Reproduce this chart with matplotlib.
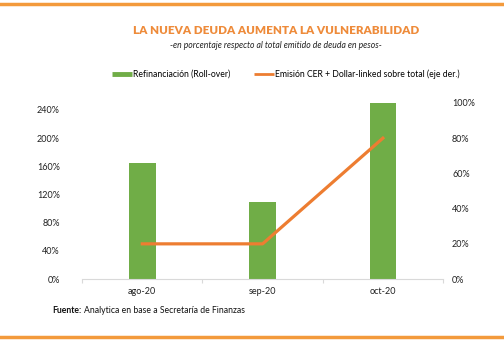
import matplotlib.pyplot as plt
import numpy as np
from matplotlib.lines import Line2D
from matplotlib.ticker import FuncFormatter

plt.rcParams['font.family'] = ['Lato', 'DejaVu Sans']

# data
months = ['ago-20', 'sep-20', 'oct-20']
rollover = [1.65, 1.10, 2.50]      # left axis
cer_share = [0.20, 0.20, 0.80]     # right axis

green = '#70AD47'
orange = '#ED7D31'
frame_orange = '#F39A3C'

fig = plt.figure(figsize=(5.04, 3.42), dpi=100)
ax = fig.add_axes([0.163, 0.184, 0.716, 0.515])
ax2 = ax.twinx()

x = np.arange(len(months))
ax.bar(x, rollover, width=0.22, color=green, zorder=2)
ax2.plot(x, cer_share, color=orange, lw=2.3)

ax.set_xlim(-0.5, 2.5)
ax.set_ylim(0, 2.5)
ax2.set_ylim(0, 1.0)
ax.set_yticks(np.arange(0, 2.41, 0.4))
ax2.set_yticks(np.arange(0, 1.01, 0.2))
pct = FuncFormatter(lambda v, p: f'{v*100:.0f}%')
ax.yaxis.set_major_formatter(pct)
ax2.yaxis.set_major_formatter(pct)

ax.set_xticks(x)
ax.set_xticklabels(months)
ax.set_xticks([-0.5, 0.5, 1.5, 2.5], minor=True)
ax.tick_params(axis='x', which='major', length=0, labelsize=6.5, pad=6, colors='#222222')
ax.tick_params(axis='x', which='minor', length=3, color='#d9d9d9', width=0.8)
ax.tick_params(axis='y', length=0, labelsize=6.5, pad=16, colors='#222222')
ax2.tick_params(axis='y', length=0, labelsize=6.5, pad=6.5, colors='#222222')

for a in (ax, ax2):
    for s in ['top', 'right', 'left']:
        a.spines[s].set_visible(False)
ax2.spines['bottom'].set_visible(False)
ax.spines['bottom'].set_color('#d9d9d9')
ax.spines['bottom'].set_linewidth(0.8)

# legend
handles = [Line2D([], [], color=green, lw=3.5, solid_capstyle='butt'),
           Line2D([], [], color=orange, lw=2.0, solid_capstyle='butt')]
labels = ['Refinanciación (Roll-over)', 'Emisión CER + Dollar-linked sobre total (eje der.)']
fig.legend(handles, labels, loc='center', bbox_to_anchor=(0.567, 0.783), ncol=2,
           frameon=False, fontsize=6.2, handlelength=2.4, handletextpad=0.1,
           columnspacing=2.7)

# titles
fig.text(0.547, 0.912, 'LA NUEVA DEUDA AUMENTA LA VULNERABILIDAD', ha='center', va='center',
         color='#EE8B3A', fontsize=8.4, fontweight='heavy')
fig.text(0.547, 0.868, '-en porcentaje respecto al total emitido de deuda en pesos-', ha='center',
         va='center', fontsize=6.2, style='italic', color='#222222')

# source
fig.text(0.103, 0.093, 'Fuente:', fontsize=6.2, fontweight='bold', va='center', color='#111111')
fig.text(0.167, 0.093, 'Analytica en base a Secretaría de Finanzas', fontsize=6.2, va='center',
         color='#111111')

# orange frame lines
fig.add_artist(Line2D([0, 1], [0.988, 0.988], color=frame_orange, lw=2.5, transform=fig.transFigure))
fig.add_artist(Line2D([0, 1], [0.015, 0.015], color=frame_orange, lw=2.5, transform=fig.transFigure))

fig.savefig('out.png', dpi=100)
